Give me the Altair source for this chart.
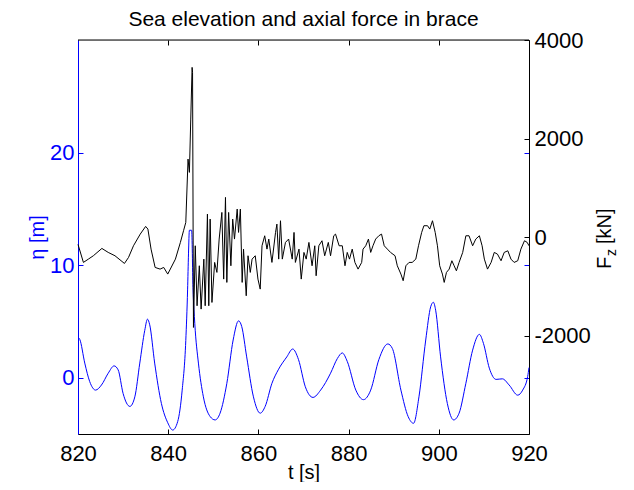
import altair as alt
import pandas as pd

title_text = "Sea elevation and axial force in brace"

t_eta = [820, 820.4, 821.5, 822.6, 823.9, 825.2, 826.7, 828.0, 828.9, 830.0, 831.5, 832.6, 833.7,
         834.8, 835.4, 835.9, 837.0, 838.5, 839.9, 841.0, 842.1, 843.1, 843.9, 844.3, 844.5, 844.7,
         845.2, 845.5, 845.9, 846.7, 847.8, 849.3, 850.4, 851.5, 853.0, 854.4, 855.6, 856.3, 857.4,
         858.9, 860.4, 861.5, 863.0, 864.4, 866.3, 867.6, 868.9, 870.4, 872.1, 873.8, 876.0, 877.5,
         878.6, 879.7, 881.6, 883.3, 884.9, 886.7, 888.7, 889.7, 891.6, 893.2, 894.4, 895.6, 897.1,
         898.2, 898.8, 899.3, 900.4, 901.9, 903.3, 904.5, 906.0, 907.5, 909.0, 909.9, 911.2, 912.7,
         914.1, 915.6, 917.5, 918.6, 919.7, 920]
eta = [3.6, 3.4, 1.3, -0.35, -1.1, -0.65, 0.4, 1.05, 0.7, -1.4, -2.55, -1.7, 1.3,
       4.2, 5.2, 4.7, 1.3, -2.3, -4.0, -4.65, -3.9, -1.1, 3.3, 7.8, 11.0, 13.1,
       13.1, 8.0, 4.8, 1.3, -1.7, -3.45, -3.75, -3.15, -0.5, 3.35, 5.05, 4.55, 1.85,
       -1.7, -3.15, -2.55, -0.5, 0.7, 1.85, 2.55, 1.6, -0.8, -1.75, -1.1, 0.4, 1.7,
       2.2, 1.45, -1.1, -1.95, -1.1, 1.6, 3.0, 2.6, -1.1, -3.45, -4.05, -1.7, 3.35,
       6.3, 6.7, 6.0, 1.85, -2.3, -3.75, -3.15, -0.5, 2.45, 3.85, 3.05, 0.85, -0.15,
       -0.1, -0.65, -1.55, -1.1, 0.1, 0.9]

t_force = [820.0, 821.2, 822.3, 823.4, 825.3, 826.7, 828.2, 830.3, 831.2, 832.3,
           833.8, 835.0, 835.5, 836.2, 837.1, 838.2, 839.0, 839.9, 841.6, 842.7,
           843.4, 843.9, 844.4, 844.7, 845.0, 845.3, 845.4, 845.6, 846.0, 846.4,
           846.9, 847.3, 847.9, 848.2, 848.7, 849.0, 849.3, 849.7, 850.3, 850.8,
           851.3, 851.9, 852.3, 852.7, 853.0, 853.4, 853.9, 854.3, 854.7, 855.3,
           855.6, 856.0, 856.4, 856.7, 857.3, 857.7, 858.2, 858.6, 859.3, 859.9,
           860.4, 860.8, 861.4, 861.9, 862.3, 863.0, 863.8, 864.1, 864.5, 864.9,
           865.3, 866.0, 866.7, 867.5, 867.9, 868.2, 869.0, 869.5, 870.1, 870.6,
           871.2, 871.9, 872.5, 872.8, 873.4, 874.1, 874.7, 875.5, 876.0, 876.7,
           877.1, 877.9, 878.6, 879.2, 879.7, 880.2, 880.8, 881.4, 882.1, 882.9,
           883.2, 883.8, 884.4, 884.9, 885.4, 886.0, 886.7, 887.3, 887.9, 888.6,
           889.3, 890.3, 890.8, 891.6, 892.1, 892.7, 893.4, 894.1, 894.9, 895.5,
           896.2, 896.7, 897.5, 898.0, 898.6, 899.2, 899.7, 900.2, 900.8, 901.2,
           901.7, 902.3, 902.9, 903.4, 903.9, 904.5, 905.3, 906.0, 906.7, 907.5,
           908.2, 909.0, 909.6, 910.1, 910.8, 911.6, 912.3, 913.0, 913.8, 914.5,
           915.3, 916.0, 916.7, 917.5, 918.2, 919.0, 919.6, 920.0]
force = [-150, -516, -449, -381, -232, -313, -381, -537, -415, -178,
         59, 215, 161, -246, -618, -652, -618, -753, -449, -110,
         127, 296, 1582, 1312, 2395, 3444, 3343, -1836, -178, -1396,
         -584, -1464, -449, -1396, 465, -1396, 364, -1329, -516, -719,
         -42, 499, -855, 804, -922, 499, -584, 364, -42, 567,
         93, 567, -922, -246, -1193, -381, -719, -449, -381, -855,
         -1058, -178, 25, -246, -42, -516, 93, 262, -449, 330,
         -449, -110, -42, -449, 93, -516, -246, -855, -313, -449,
         -110, -584, -178, -787, -178, -76, -381, -110, -381, 25,
         59, -178, -178, -584, -313, -449, -246, -516, -652, -516,
         -246, -178, -42, -313, -178, -42, 25, 59, -178, -246,
         -313, -381, -584, -753, -888, -584, -516, -516, -449, -178,
         93, 229, 229, 161, 330, 93, -178, -584, -753, -922,
         -719, -652, -482, -584, -686, -516, -313, 25, 25, -178,
         -42, 25, -178, -449, -652, -516, -313, -347, -482, -313,
         -280, -449, -516, -482, -246, -76, -110, -178]

x_ticks = [820, 840, 860, 880, 900, 920]
eta_ticks = [0, 10, 20]
force_ticks = [-2000, 0, 2000, 4000]

W, H = 451, 394
FONT = "Liberation Sans"
BLUE = "#0000ff"
TICK = 5
LBL = 22

xscale = alt.Scale(domain=[820, 920], nice=False, zero=False)
eta_scale = alt.Scale(domain=[-5, 30], nice=False, zero=False)
f_scale = alt.Scale(domain=[-4000, 4000], nice=False, zero=False)

eta_df = pd.DataFrame({"t": t_eta, "eta": eta})
f_df = pd.DataFrame({"t": t_force, "F": force})
one = pd.DataFrame({"k": [0]})

x_axis = alt.Axis(values=x_ticks, title="t [s]", labelFont=FONT, labelFontSize=LBL,
                  labelColor="black", labelFlush=False, labelOverlap=False, labelPadding=9,
                  tickSize=0, domainColor="black", domainOpacity=1, grid=True,
                  gridColor="black", gridOpacity=1, gridWidth=1,
                  gridDash=[TICK, H - 2 * TICK, TICK, 2000],
                  titleFont=FONT, titleFontSize=20, titleFontWeight="normal",
                  titleColor="black", titlePadding=-2)

blue_line = alt.Chart(eta_df).mark_line(color=BLUE, strokeWidth=1, interpolate="monotone").encode(
    x=alt.X("t:Q", scale=xscale, axis=x_axis),
    y=alt.Y("eta:Q", scale=eta_scale,
            axis=alt.Axis(orient="left", values=eta_ticks, title="η [m]", labelFont=FONT,
                          labelFontSize=LBL, labelColor=BLUE, tickSize=0, labelPadding=4,
                          domainColor=BLUE, grid=True, gridColor=BLUE, gridOpacity=1,
                          gridWidth=1, gridDash=[TICK, W - 2 * TICK, TICK, 2000],
                          titleFont=FONT, titleFontSize=20,
                          titleFontWeight="normal", titleColor=BLUE, titlePadding=2,
                          labelExpr="'' + datum.value")),
)

black_line = alt.Chart(f_df).mark_line(color="black", strokeWidth=1).encode(
    x=alt.X("t:Q", scale=xscale, axis=x_axis),
    y=alt.Y("F:Q", scale=f_scale,
            axis=alt.Axis(orient="right", values=force_ticks, title=None, labelFont=FONT,
                          labelFontSize=LBL, labelColor="black", tickSize=0, labelPadding=5,
                          domainColor="black", grid=True, gridColor="black", gridOpacity=1,
                          gridWidth=1, gridDash=[TICK, 2000],
                          labelExpr="'' + datum.value")),
)

top_border = alt.Chart(one).mark_rule(color="black", strokeWidth=1).encode(
    x=alt.value(0), x2=alt.value(W), y=alt.value(0))

t_F = alt.Chart(one).mark_text(text="F", angle=270, align="left", baseline="middle",
                               font=FONT, fontSize=20, color="black").encode(
    x=alt.value(527), y=alt.value(229))
t_z = alt.Chart(one).mark_text(text="z", angle=270, align="left", baseline="middle",
                               font=FONT, fontSize=14, color="black").encode(
    x=alt.value(534), y=alt.value(216))
t_kN = alt.Chart(one).mark_text(text="[kN]", angle=270, align="left", baseline="middle",
                                font=FONT, fontSize=20, color="black").encode(
    x=alt.value(527), y=alt.value(204))

chart = alt.layer(blue_line, black_line, top_border, t_F, t_z, t_kN).resolve_scale(
    y="independent").properties(
    width=W, height=H,
    title=alt.TitleParams(title_text, font=FONT, fontSize=21, fontWeight="normal",
                          color="black", anchor="middle", offset=-1, frame="group"),
    autosize=alt.AutoSizeParams(type="none"),
    padding={"left": 70, "top": 32, "right": 90, "bottom": 48},
).configure_view(stroke=None).configure(background="white")

chart.save("out.html", embed_options={"renderer": "svg", "actions": False})
